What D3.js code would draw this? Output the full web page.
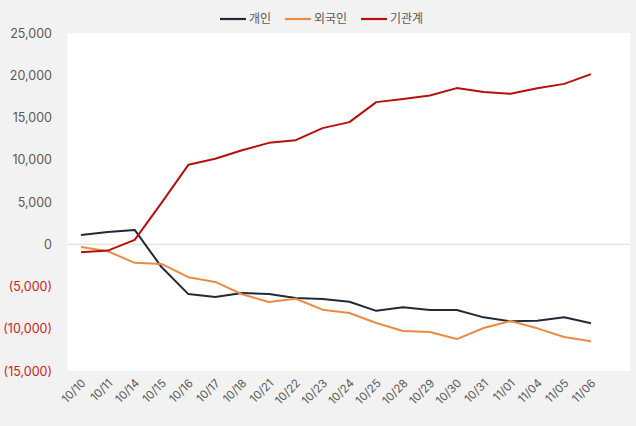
<!DOCTYPE html>
<html>
<head>
<meta charset="utf-8">
<script src="https://cdn.jsdelivr.net/npm/d3@7"></script>
<style>
  body { margin: 0; background: #f2f2f2; }
  svg { display: block; font-family: Inter, "Noto Sans CJK KR", sans-serif; }
</style>
</head>
<body>
<div id="chart"></div>
<script>
// dates on the x axis
var dates = ["10/10","10/11","10/14","10/15","10/16","10/17","10/18","10/21","10/22","10/23",
  "10/24","10/25","10/28","10/29","10/30","10/31","11/01","11/04","11/05","11/06"];

// 개인
var retail = [1100, 1450, 1700, -2700, -5900, -6250, -5780, -5880, -6350, -6470,
  -6800, -7880, -7450, -7780, -7780, -8650, -9120, -9040, -8650, -9360];
// 외국인
var foreign = [-320, -830, -2200, -2330, -3900, -4460, -5920, -6830, -6450, -7740,
  -8130, -9320, -10270, -10390, -11220, -9910, -9080, -9950, -10980, -11490];
// 기관계
var institution = [-950, -750, 510, 4900, 9400, 10120, 11120, 12000, 12320, 13740,
  14450, 16820, 17180, 17600, 18480, 18010, 17800, 18450, 18980, 20140];

var yTicks = [25000, 20000, 15000, 10000, 5000, 0, -5000, -10000, -15000];

var series = [
  { name: "개인", values: retail, color: "#222a38" },
  { name: "외국인", values: foreign, color: "#ea8a43" },
  { name: "기관계", values: institution, color: "#b5100f" }
];

var W = 636, H = 426;
var plot = { left: 67.5, right: 630, top: 33, bottom: 371 };

var svg = d3.select("#chart").append("svg")
  .attr("width", W)
  .attr("height", H);

svg.append("rect")
  .attr("width", W).attr("height", H)
  .attr("fill", "#f2f2f2");

// white plot area
svg.append("rect")
  .attr("x", plot.left).attr("y", plot.top)
  .attr("width", plot.right - plot.left)
  .attr("height", plot.bottom - plot.top)
  .attr("fill", "#ffffff");

var x = d3.scalePoint().domain(dates).range([81, 591]);
var y = d3.scaleLinear().domain([-15000, 25000]).range([371, 33]);

// y axis labels, negatives in red with brackets
var fmt = d3.format(",");
var yAxis = d3.axisLeft(y).tickValues(yTicks).tickSize(0).tickPadding(0)
  .tickFormat(function (d) { return d < 0 ? "(" + fmt(-d) + ")" : fmt(d); });

var gy = svg.append("g")
  .attr("transform", "translate(52,0)")
  .call(yAxis);
gy.select(".domain").remove();
gy.selectAll("text")
  .attr("font-family", "Inter, sans-serif")
  .attr("font-size", 12.5)
  .attr("fill", function (d) { return d < 0 ? "#c81e1e" : "#595959"; });

// zero line
svg.append("line")
  .attr("x1", plot.left).attr("x2", plot.right)
  .attr("y1", y(0)).attr("y2", y(0))
  .attr("stroke", "#d9d9d9")
  .attr("stroke-width", 1.2);

// x axis labels, rotated
var xAxis = d3.axisBottom(x).tickSize(0).tickPadding(0);
var gx = svg.append("g")
  .attr("transform", "translate(0,381)")
  .call(xAxis);
gx.select(".domain").remove();
gx.selectAll("text")
  .attr("font-family", "Inter, sans-serif")
  .attr("font-size", 11.5)
  .attr("fill", "#595959")
  .attr("text-anchor", "end")
  .attr("dy", "0.35em")
  .attr("transform", "translate(2,0) rotate(-45)");

// lines
var line = d3.line()
  .x(function (d, i) { return x(dates[i]); })
  .y(function (d) { return y(d); });

series.forEach(function (s) {
  svg.append("path")
    .datum(s.values)
    .attr("d", line)
    .attr("fill", "none")
    .attr("stroke", s.color)
    .attr("stroke-width", 2)
    .attr("stroke-linejoin", "round");
});

// legend
var legendX = [220, 285, 361];
var legend = svg.append("g").attr("class", "legend");
series.forEach(function (s, i) {
  var g = legend.append("g").attr("transform", "translate(" + legendX[i] + ",19)");
  g.append("line")
    .attr("x1", 0).attr("x2", 26)
    .attr("stroke", s.color)
    .attr("stroke-width", 2.2);
  g.append("text")
    .attr("x", 29)
    .attr("dy", "0.35em")
    .attr("font-family", "'Noto Sans CJK KR', sans-serif")
    .attr("font-size", 12)
    .attr("fill", "#595959")
    .text(s.name);
});
</script>
</body>
</html>
